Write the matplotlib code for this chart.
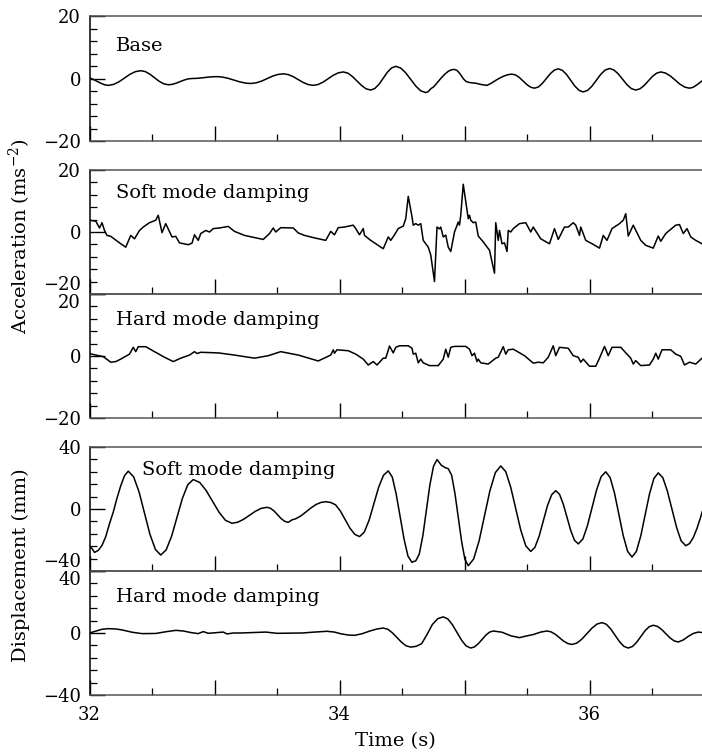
import matplotlib
matplotlib.use('Agg')
import matplotlib.pyplot as plt
from matplotlib.ticker import MultipleLocator, FixedLocator, FuncFormatter

plt.rcParams['font.family'] = ['DejaVu Serif']
plt.rcParams['mathtext.fontset'] = 'dejavuserif'

# ---------------- data ----------------
base_t = [32.00, 32.03, 32.06, 32.09, 32.12, 32.15, 32.193, 32.237, 32.28, 32.323,
          32.367, 32.41, 32.447, 32.483, 32.52, 32.557, 32.593, 32.63, 32.662, 32.693,
          32.725, 32.757, 32.788, 32.82, 32.853, 32.887, 32.92, 32.953, 32.987, 33.02,
          33.065, 33.11, 33.155, 33.20, 33.245, 33.29, 33.333, 33.377, 33.42, 33.463,
          33.507, 33.55, 33.59, 33.63, 33.67, 33.71, 33.75, 33.79, 33.83, 33.87,
          33.91, 33.95, 33.99, 34.03, 34.067, 34.103, 34.14, 34.177, 34.213, 34.25,
          34.283, 34.317, 34.35, 34.383, 34.417, 34.45, 34.49, 34.53, 34.57, 34.61,
          34.65, 34.69, 34.71, 34.73, 34.755, 34.78, 34.81, 34.84, 34.87, 34.895,
          34.92, 34.938, 34.957, 34.975, 34.993, 35.012, 35.03, 35.06, 35.09, 35.13,
          35.18, 35.21, 35.25, 35.28, 35.31, 35.345, 35.38, 35.41, 35.44, 35.47,
          35.50, 35.53, 35.56, 35.592, 35.623, 35.655, 35.687, 35.718, 35.75, 35.783,
          35.817, 35.85, 35.883, 35.917, 35.95, 35.985, 36.02, 36.055, 36.09, 36.125,
          36.16, 36.195, 36.23, 36.265, 36.30, 36.335, 36.37, 36.403, 36.437, 36.47,
          36.503, 36.537, 36.57, 36.608, 36.647, 36.685, 36.723, 36.762, 36.80, 36.83,
          36.86, 36.89, 36.92]
base_acc = [0.2, -0.3, -0.9, -1.5, -2.0, -2.2, -1.89, -1.03, 0.15, 1.33,
            2.19, 2.5, 2.2, 1.38, 0.25, -0.88, -1.7, -2.0, -1.87, -1.5,
            -1.0, -0.5, -0.13, 0.0, 0.04, 0.15, 0.3, 0.45, 0.56, 0.6,
            0.45, 0.05, -0.5, -1.05, -1.45, -1.6, -1.39, -0.83, -0.05, 0.73,
            1.29, 1.5, 1.25, 0.58, -0.35, -1.28, -1.95, -2.2, -1.91, -1.13,
            -0.05, 1.03, 1.81, 2.1, 1.71, 0.65, -0.8, -2.25, -3.31, -3.7,
            -3.19, -1.8, 0.1, 2.0, 3.39, 3.9, 3.34, 1.8, -0.3, -2.4,
            -3.94, -4.5, -4.2, -3.3, -2.6, -1.4, 0.0, 1.3, 2.3, 2.8,
            2.9, 2.63, 1.88, 0.85, -0.18, -0.93, -1.2, -1.4, -1.5, -1.9,
            -2.2, -1.6, -0.6, 0.1, 0.7, 1.2, 1.4, 1.1, 0.28, -0.85,
            -1.98, -2.8, -3.1, -2.69, -1.55, 0.0, 1.55, 2.68, 3.1, 2.6,
            1.25, -0.6, -2.45, -3.8, -4.3, -3.8, -2.43, -0.55, 1.33, 2.7,
            3.2, 2.74, 1.48, -0.25, -1.98, -3.24, -3.7, -3.31, -2.25, -0.8,
            0.65, 1.71, 2.1, 1.75, 0.8, -0.5, -1.8, -2.75, -3.1, -2.8,
            -2.0, -1.1, -0.1]

soft_acc_t = [32.00, 32.05, 32.08, 32.10, 32.12, 32.14, 32.17, 32.24, 32.29, 32.33,
              32.36, 32.40, 32.43, 32.48, 32.53, 32.55, 32.58, 32.61, 32.66, 32.69,
              32.72, 32.79, 32.82, 32.84, 32.87, 32.89, 32.93, 32.96, 32.99, 33.04,
              33.11, 33.16, 33.24, 33.39, 33.44, 33.47, 33.49, 33.53, 33.63, 33.67,
              33.72, 33.80, 33.89, 33.93, 33.96, 33.99, 34.04, 34.11, 34.13, 34.16,
              34.19, 34.20, 34.25, 34.35, 34.39, 34.41, 34.44, 34.47, 34.51, 34.53,
              34.55, 34.58, 34.59, 34.61, 34.63, 34.65, 34.67, 34.71, 34.73, 34.76,
              34.78, 34.80, 34.81, 34.83, 34.85, 34.87, 34.89, 34.92, 34.95, 34.96,
              34.97, 34.99, 35.03, 35.04, 35.05, 35.07, 35.09, 35.11, 35.15, 35.20,
              35.24, 35.25, 35.27, 35.28, 35.30, 35.32, 35.34, 35.35, 35.37, 35.39,
              35.44, 35.49, 35.53, 35.55, 35.61, 35.68, 35.72, 35.75, 35.80, 35.83,
              35.87, 35.89, 35.92, 35.93, 35.97, 36.03, 36.08, 36.11, 36.14, 36.18,
              36.24, 36.27, 36.29, 36.31, 36.35, 36.41, 36.45, 36.51, 36.55, 36.57,
              36.61, 36.63, 36.69, 36.72, 36.75, 36.78, 36.81, 36.85, 36.90]
soft_acc = [3.8, 3.5, 1.3, 3.0, 0.5, -1.1, -1.4, -3.5, -4.9, -1.1,
            -2.2, 0.5, 1.6, 3.0, 3.8, 5.4, -0.2, 2.7, -1.6, -1.4,
            -3.5, -4.1, -3.6, -0.9, -2.7, -0.5, 0.5, 0.0, 1.1, 1.3,
            1.8, 0.2, -1.1, -2.4, -0.5, 1.3, 0.0, 1.4, 1.3, -0.3,
            -1.1, -1.9, -2.7, 0.2, -0.9, 1.4, 1.6, 2.2, 1.1, -0.9,
            1.1, -1.1, -2.7, -5.4, -1.6, -2.7, -0.9, 1.1, 1.9, 4.3,
            11.5, 4.9, 2.2, 2.7, 2.2, 2.7, -2.7, -4.9, -7.4, -16.0,
            1.6, 1.0, 1.6, -1.6, -1.0, -4.9, -6.3, 0.0, 3.2, 2.2,
            5.4, 15.4, 4.3, 5.4, 3.8, 3.0, 3.2, -1.3, -3.2, -5.9,
            -13.3, 3.0, -2.7, 0.5, -3.8, -3.5, -6.3, 0.5, 0.0, 1.1,
            2.7, 3.0, 0.0, 1.6, -2.2, -3.8, 1.1, -2.4, 1.6, 1.6,
            3.0, 2.2, -1.1, 1.6, -2.7, -4.0, -5.2, -1.1, -2.7, 1.1,
            2.7, 3.8, 5.9, -1.3, 2.2, -2.7, -4.3, -5.2, -1.3, -3.0,
            -0.5, 0.2, 2.2, 2.4, -0.5, 1.1, -1.6, -2.7, -3.8]

hard_acc_t = [32.00, 32.05, 32.11, 32.17, 32.21, 32.25, 32.32, 32.35, 32.37, 32.39,
              32.45, 32.52, 32.60, 32.67, 32.73, 32.80, 32.84, 32.86, 32.89, 33.03,
              33.16, 33.32, 33.43, 33.53, 33.67, 33.83, 33.93, 33.95, 33.96, 33.98,
              34.07, 34.13, 34.19, 34.23, 34.27, 34.30, 34.35, 34.37, 34.40, 34.43,
              34.45, 34.48, 34.55, 34.58, 34.59, 34.61, 34.63, 34.65, 34.67, 34.72,
              34.79, 34.83, 34.85, 34.87, 34.89, 34.92, 35.01, 35.04, 35.06, 35.08,
              35.10, 35.11, 35.13, 35.19, 35.25, 35.27, 35.31, 35.33, 35.35, 35.39,
              35.48, 35.55, 35.59, 35.63, 35.67, 35.71, 35.73, 35.76, 35.83, 35.87,
              35.91, 35.93, 35.95, 36.00, 36.05, 36.08, 36.12, 36.15, 36.18, 36.25,
              36.30, 36.33, 36.35, 36.37, 36.41, 36.48, 36.51, 36.53, 36.55, 36.58,
              36.65, 36.69, 36.73, 36.76, 36.80, 36.85, 36.90]
hard_acc = [0.8, 0.3, -0.2, -2.0, -1.8, -1.0, 0.6, 2.8, 1.4, 3.0,
            3.0, 1.4, -0.4, -1.8, -0.7, 0.3, 1.4, 0.8, 1.2, 1.0,
            0.3, -0.7, 0.1, 1.4, 0.3, -1.6, 0.3, 2.0, 0.9, 2.0,
            1.7, 0.6, -1.0, -2.9, -1.8, -2.9, -0.7, -0.7, 3.2, 1.0,
            2.8, 3.3, 3.3, 2.5, 0.6, 0.9, -2.2, -1.0, -2.2, -3.1,
            -3.1, -1.0, 2.2, -0.4, 2.8, 3.1, 3.1, 2.2, 0.1, 0.9,
            -1.8, -1.0, -2.2, -2.6, -0.7, -0.4, 3.0, 0.6, 2.0, 2.2,
            0.1, -2.3, -2.0, -2.2, -0.4, 3.3, 0.1, 2.8, 2.5, 0.1,
            -0.4, -2.0, -1.0, -3.3, -3.3, -0.7, 3.1, 0.1, 2.8, 2.8,
            0.6, -0.7, -2.6, -1.5, -3.1, -2.9, -1.0, 0.9, -1.0, 2.0,
            2.0, 0.6, -0.1, -2.9, -2.0, -2.6, -0.7]

soft_disp_t = [32.00, 32.02, 32.04, 32.07, 32.10, 32.13, 32.16, 32.19, 32.22, 32.25,
               32.28, 32.31, 32.353, 32.397, 32.44, 32.483, 32.527, 32.57, 32.613, 32.657,
               32.70, 32.743, 32.787, 32.83, 32.882, 32.933, 32.985, 33.037, 33.088, 33.14,
               33.187, 33.233, 33.28, 33.327, 33.373, 33.42, 33.448, 33.477, 33.505, 33.533,
               33.562, 33.59, 33.62, 33.65, 33.69, 33.73, 33.77, 33.81, 33.85, 33.89,
               33.93, 33.968, 34.007, 34.045, 34.083, 34.122, 34.16, 34.198, 34.237, 34.275,
               34.313, 34.352, 34.39, 34.422, 34.453, 34.485, 34.517, 34.548, 34.58, 34.595,
               34.61, 34.638, 34.667, 34.695, 34.723, 34.752, 34.78, 34.815, 34.845, 34.87,
               34.897, 34.923, 34.95, 34.977, 35.003, 35.03, 35.073, 35.117, 35.16, 35.203,
               35.247, 35.29, 35.33, 35.37, 35.41, 35.45, 35.49, 35.53, 35.563, 35.597,
               35.63, 35.663, 35.697, 35.73, 35.76, 35.79, 35.82, 35.85, 35.88, 35.91,
               35.947, 35.983, 36.02, 36.057, 36.093, 36.13, 36.165, 36.20, 36.235, 36.27,
               36.305, 36.34, 36.375, 36.41, 36.445, 36.48, 36.515, 36.55, 36.587, 36.623,
               36.66, 36.697, 36.733, 36.77, 36.80, 36.83, 36.86, 36.89, 36.92]
soft_disp = [-24.0, -25.5, -28.0, -26.7, -23.5, -17.8, -9.5, -2.0, 7.0, 15.0,
             21.5, 24.4, 20.78, 10.87, -2.65, -16.18, -26.08, -29.7, -26.44, -17.52,
             -5.35, 6.83, 15.74, 19.0, 17.11, 11.95, 4.9, -2.15, -7.31, -9.2,
             -8.51, -6.63, -4.05, -1.48, 0.41, 1.1, 0.45, -1.33, -3.75, -6.18,
             -7.95, -8.6, -7.0, -6.3, -4.5, -2.0, 0.6, 2.8, 4.2, 4.7,
             4.2, 2.73, -1.3, -6.8, -12.3, -16.33, -17.8, -14.96, -7.2, 3.4,
             14.0, 21.76, 24.6, 20.65, 9.85, -4.9, -19.65, -30.45, -34.4, -33.8,
             -33.5, -29.12, -17.15, -0.8, 15.55, 27.52, 31.9, 28.2, 26.7, 26.0,
             21.81, 10.35, -5.3, -20.95, -32.4, -36.6, -32.29, -20.5, -4.4, 11.7,
             23.49, 27.8, 24.1, 14.0, 0.2, -13.6, -23.7, -27.4, -24.77, -17.6,
             -7.8, 2.0, 9.17, 11.8, 9.5, 3.23, -5.35, -13.93, -20.2, -22.5,
             -19.38, -10.87, 0.75, 12.38, 20.88, 24.0, 20.31, 10.25, -3.5, -17.25,
             -27.3, -31.0, -27.36, -17.42, -3.85, 9.73, 19.66, 23.3, 20.15, 11.55,
             -0.2, -11.95, -20.55, -23.7, -22.3, -18.5, -12.5, -5.0, 3.0]

hard_disp_t = [32.00, 32.05, 32.10, 32.15, 32.21, 32.26, 32.34, 32.42, 32.53, 32.61,
               32.69, 32.75, 32.81, 32.87, 32.91, 32.95, 33.01, 33.07, 33.10, 33.15,
               33.21, 33.41, 33.50, 33.70, 33.80, 33.90, 33.96, 34.01, 34.07, 34.12,
               34.18, 34.24, 34.30, 34.35, 34.387, 34.423, 34.46, 34.497, 34.533, 34.57,
               34.613, 34.657, 34.70, 34.743, 34.787, 34.83, 34.867, 34.903, 34.94, 34.977,
               35.013, 35.05, 35.08, 35.11, 35.14, 35.17, 35.20, 35.23, 35.30, 35.37,
               35.44, 35.48, 35.55, 35.61, 35.66, 35.693, 35.727, 35.76, 35.793, 35.827,
               35.86, 35.90, 35.94, 35.98, 36.02, 36.06, 36.10, 36.135, 36.17, 36.205,
               36.24, 36.275, 36.31, 36.343, 36.377, 36.41, 36.443, 36.477, 36.51, 36.543,
               36.577, 36.61, 36.643, 36.677, 36.71, 36.75, 36.79, 36.83, 36.87, 36.90,
               36.92]
hard_disp = [0.0, 1.2, 2.4, 2.8, 2.6, 2.0, 0.5, -0.4, -0.3, 0.8,
             1.7, 1.3, 0.3, -0.4, 0.9, -0.2, 0.2, 0.6, -0.6, 0.0,
             0.0, 0.6, -0.2, 0.0, 0.6, 1.1, 0.6, -0.5, -1.3, -1.5,
             -0.5, 1.2, 2.6, 3.2, 2.38, 0.13, -2.95, -6.03, -8.28, -9.1,
             -8.6, -6.9, -1.0, 5.5, 9.3, 10.4, 9.05, 5.37, 0.35, -4.68,
             -8.35, -9.7, -8.96, -6.95, -4.2, -1.45, 0.56, 1.3, 0.5, -1.8,
             -3.0, -2.2, -1.0, 0.6, 1.3, 0.72, -0.88, -3.05, -5.23, -6.82,
             -7.4, -6.46, -3.88, -0.35, 3.18, 5.76, 6.7, 5.6, 2.6, -1.5,
             -5.6, -8.6, -9.7, -8.72, -6.03, -2.35, 1.33, 4.02, 5.0, 4.28,
             2.3, -0.4, -3.1, -5.08, -5.8, -4.5, -2.2, -0.3, 0.6, 0.3,
             0.0]

panel_titles = ['Base', 'Soft mode damping', 'Hard mode damping',
                'Soft mode damping', 'Hard mode damping']
xtick_labels = ['32', '34', '36']

series = [(base_t, base_acc), (soft_acc_t, soft_acc), (hard_acc_t, hard_acc),
          (soft_disp_t, soft_disp), (hard_disp_t, hard_disp)]

# ---------------- layout ----------------
W, H = 702, 756
fig = plt.figure(figsize=(W / 100, H / 100), dpi=100)
left_px = 89.5
px_per_s = 125.0
xmax = 32 + (W - left_px) / px_per_s
panels_px = [(16, 141), (170, 294), (294, 418), (447, 571), (571, 695)]
ylims = [20, 20, 20, 40, 40]
title_pos = [(0.0425, 0.72), (0.044, 0.772), (0.0425, 0.75), (0.085, 0.774), (0.0425, 0.75)]

axes = []
for i, (top, bot) in enumerate(panels_px):
    ax = fig.add_axes([left_px / W, 1 - bot / H, (W - left_px) / W, (bot - top) / H])
    t, v = series[i]
    ax.plot(t, v, color='black', lw=1.1, solid_joinstyle='round')
    lim = ylims[i]
    ax.set_xlim(32, xmax)
    ax.set_ylim(-lim, lim)
    ax.yaxis.set_major_locator(FixedLocator([-lim, 0, lim]))
    ax.yaxis.set_minor_locator(MultipleLocator(lim / 5))
    ax.xaxis.set_major_locator(MultipleLocator(1))
    ax.xaxis.set_minor_locator(MultipleLocator(0.5))
    ax.yaxis.set_major_formatter(FuncFormatter(lambda y, p: f"{int(y)}".replace('-', '\u2212')))
    if i == 4:
        ax.xaxis.set_major_formatter(FuncFormatter(
            lambda x, p: (f"{int(round(x))}" if f"{int(round(x))}" in xtick_labels else '')))
    else:
        ax.xaxis.set_major_formatter(FuncFormatter(lambda x, p: ''))
    ax.tick_params(axis='both', which='both', direction='in', colors='black',
                   top=False, right=False)
    ax.tick_params(axis='x', which='major', length=10.5, width=1.0, pad=8, labelsize=13)
    ax.tick_params(axis='x', which='minor', length=5, width=0.9)
    ax.tick_params(axis='y', which='major', length=11, width=1.0, pad=6, labelsize=13)
    ax.tick_params(axis='y', which='minor', length=5, width=0.9)
    ax.spines['right'].set_visible(False)
    for s in ['top', 'bottom']:
        ax.spines[s].set_color('#555555')
        ax.spines[s].set_linewidth(1.1)
    ax.spines['left'].set_color('black')
    ax.spines['left'].set_linewidth(1.1)
    ax.text(title_pos[i][0], title_pos[i][1], panel_titles[i], transform=ax.transAxes,
            fontsize=14, ha='left', va='baseline')
    ax.patch.set_alpha(0)
    axes.append(ax)

# avoid overlapping labels at the shared boundaries
for ax_up, ax_dn in [(axes[1], axes[2]), (axes[3], axes[4])]:
    up_ticks = ax_up.yaxis.get_major_ticks()
    up_ticks[0].label1.set_verticalalignment('bottom')
    dn_ticks = ax_dn.yaxis.get_major_ticks()
    dn_ticks[2].label1.set_verticalalignment('top')

axes[4].set_xlabel('Time (s)', fontsize=14, labelpad=6)

fig.text(0.028, 1 - 236 / H, 'Acceleration (ms$^{\\mathregular{-2}}$)', rotation=90,
         ha='center', va='center', fontsize=14)
fig.text(0.030, 1 - 565 / H, 'Displacement (mm)', rotation=90,
         ha='center', va='center', fontsize=14)

fig.savefig('out.png', dpi=100)
